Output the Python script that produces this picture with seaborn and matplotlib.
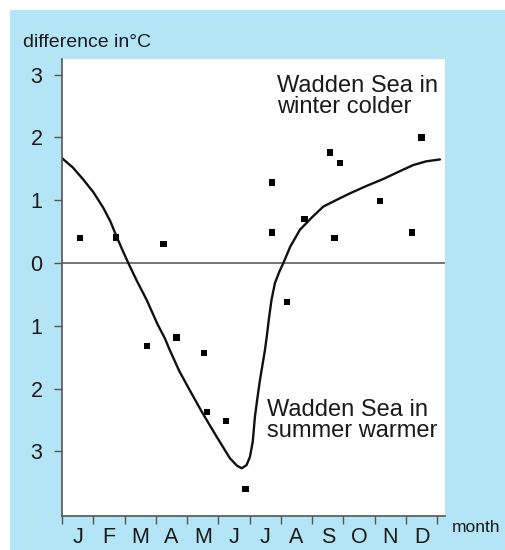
import numpy as np
import pandas as pd
import matplotlib
matplotlib.use("Agg")
import matplotlib.pyplot as plt
import seaborn as sns
from matplotlib.patches import Rectangle

# ==============================
# Data
# ==============================

MONTHS = ["J", "F", "M", "A", "M", "J", "J", "A", "S", "O", "N", "D"]

# measured single values, x in months from 1 January
obs_month = [0.58, 1.73, 3.24, 2.72, 3.66, 4.54, 4.63, 5.25, 5.87, 6.72,
             6.72, 7.20, 7.75, 8.57, 8.89, 8.72, 10.17, 11.20, 11.50]
obs_diff = [0.40, 0.41, 0.30, -1.32, -1.19, -1.43, -2.37, -2.52, -3.60, 1.28,
            0.49, -0.62, 0.70, 1.76, 1.59, 0.40, 0.99, 0.49, 2.00]

# mean curve
curve_month = [0.00, 0.35, 0.68, 1.00, 1.32, 1.55, 1.73, 1.93, 2.12, 2.40,
               2.71, 3.05, 3.29, 3.45, 3.75, 4.09, 4.47, 4.95, 5.37, 5.60,
               5.75, 5.90, 6.01, 6.10, 6.17, 6.25, 6.33, 6.49, 6.55, 6.62,
               6.70, 6.81, 6.95, 7.08, 7.30, 7.61, 8.00, 8.36, 8.80, 9.21,
               9.75, 10.28, 10.75, 11.23, 11.65, 12.09]
curve_diff = [1.67, 1.52, 1.33, 1.13, 0.88, 0.66, 0.44, 0.21, 0.00, -0.29,
              -0.59, -0.97, -1.20, -1.39, -1.72, -2.03, -2.37, -2.77, -3.11,
              -3.23, -3.27, -3.22, -3.09, -2.85, -2.45, -2.15, -1.87, -1.39,
              -1.17, -0.88, -0.59, -0.32, -0.14, 0.00, 0.26, 0.53, 0.73,
              0.90, 1.01, 1.11, 1.23, 1.34, 1.45, 1.56, 1.62, 1.65]

Y_TICKS = [-3, -2, -1, 0, 1, 2, 3]
Y_LABELS = ["3", "2", "1", "0", "1", "2", "3"]

BLUE = "#b3e5f6"
INK = "#1a1a1a"
AXIS_GREY = "#555555"


def px(x, y):
    """Pixel position (from top left) to figure fraction."""
    return x / 506, 1 - y / 550


def main():
    sns.set_style("white")
    plt.rcParams["font.family"] = ["Liberation Sans", "DejaVu Sans"]
    plt.rcParams["text.color"] = INK
    plt.rcParams["xtick.color"] = INK
    plt.rcParams["ytick.color"] = INK

    fig = plt.figure(figsize=(5.06, 5.5), dpi=100)
    fig.patch.set_facecolor("white")
    fig.add_artist(Rectangle((10 / 506, 0), 1, 1 - 10 / 550,
                             transform=fig.transFigure,
                             facecolor=BLUE, edgecolor="none", zorder=-5))

    ax = fig.add_axes([62 / 506, 1 - 516 / 550, 383 / 506, 457 / 550])
    ax.set_zorder(2)
    ax.set_facecolor("white")

    curve = pd.DataFrame({"month": curve_month, "diff": curve_diff})
    obs = pd.DataFrame({"month": obs_month, "diff": obs_diff})

    ax.axhline(0, color="#6a6a6a", lw=1.3, zorder=1)
    sns.lineplot(data=curve, x="month", y="diff", ax=ax, color="#111111",
                 lw=1.7, sort=False, zorder=2)
    sns.scatterplot(data=obs, x="month", y="diff", ax=ax, marker="s",
                    color="black", s=22, edgecolor="none", zorder=3)

    ax.set_xlim(0, 12.25)
    ax.set_ylim(-4.03, 3.25)

    # y axis
    ax.set_yticks(Y_TICKS)
    ax.set_yticklabels(Y_LABELS, fontsize=15.5)
    ax.tick_params(axis="y", direction="out", length=6, width=1,
                   color=AXIS_GREY, left=True, pad=8)

    # x axis: tick marks between months, labels in the middle
    ax.set_xticks(range(13))
    ax.set_xticklabels([])
    ax.set_xticks(np.arange(12) + 0.5, minor=True)
    ax.set_xticklabels(MONTHS, minor=True, fontsize=15.5)
    ax.tick_params(axis="x", which="major", direction="out", length=6,
                   width=1, color=AXIS_GREY, bottom=True)
    ax.tick_params(axis="x", which="minor", length=0, pad=8)

    ax.set_xlabel("")
    ax.set_ylabel("")
    for side in ["top", "right"]:
        ax.spines[side].set_visible(False)
    for side in ["left", "bottom"]:
        ax.spines[side].set_color(AXIS_GREY)
        ax.spines[side].set_linewidth(1.2)

    fig.text(*px(23, 47), "difference in°C", fontsize=14,
             va="baseline", ha="left")
    fig.text(*px(452, 532), "month", fontsize=12.5,
             va="baseline", ha="left")

    # anchored on the baseline of the last line
    fig.text(*px(277, 113), "Wadden Sea in\nwinter colder",
             fontsize=17, va="baseline", ha="left", linespacing=0.95,
             zorder=5)
    fig.text(*px(267, 437), "Wadden Sea in\nsummer warmer",
             fontsize=17, va="baseline", ha="left", linespacing=0.95,
             zorder=5)

    fig.savefig("out.png", dpi=100)
    plt.close(fig)


if __name__ == "__main__":
    main()
